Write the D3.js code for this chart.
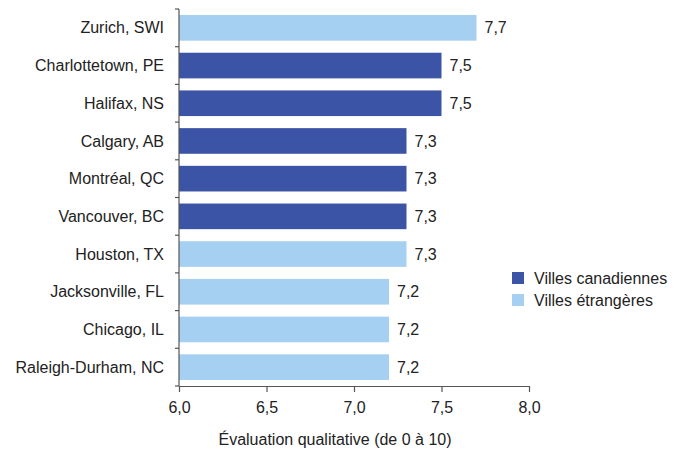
<!DOCTYPE html>
<html>
<head>
<meta charset="utf-8">
<script src="https://cdn.jsdelivr.net/npm/d3@7"></script>
<style>
  html, body { margin: 0; padding: 0; background: #fff; }
  svg { display: block; font-family: "Liberation Sans", Arial, Helvetica, sans-serif; }
</style>
</head>
<body>
<svg id="chart" width="683" height="457"></svg>
<script>
// City ratings, top to bottom
const cities = ["Zurich, SWI", "Charlottetown, PE", "Halifax, NS", "Calgary, AB", "Montréal, QC",
                "Vancouver, BC", "Houston, TX", "Jacksonville, FL", "Chicago, IL", "Raleigh-Durham, NC"];
const ratings = [7.7, 7.5, 7.5, 7.3, 7.3, 7.3, 7.3, 7.2, 7.2, 7.2];
const groups = ["f", "c", "c", "c", "c", "c", "f", "f", "f", "f"];
const xTicks = [6.0, 6.5, 7.0, 7.5, 8.0];
const legendLabels = ["Villes canadiennes", "Villes étrangères"];
const legendKeys = ["c", "f"];

const colors = { c: "#3b54a5", f: "#a5d0f2" };
const fmt = v => d3.format(".1f")(v).replace(".", ",");
const fontSize = 16;
const textColor = "#222";

const svg = d3.select("#chart");
const plotLeft = 179, plotRight = 529, plotTop = 9, plotBottom = 386;

const x = d3.scaleLinear().domain([6, 8]).range([plotLeft, plotRight]);
const y = d3.scaleBand().domain(cities).range([plotTop, plotBottom]).paddingInner(0.32).paddingOuter(0.16);

// Bars
svg.append("g").selectAll("rect").data(cities).join("rect")
  .attr("x", x(6))
  .attr("y", d => y(d))
  .attr("width", (d, i) => x(ratings[i]) - x(6))
  .attr("height", y.bandwidth())
  .attr("fill", (d, i) => colors[groups[i]]);

// Value labels
svg.append("g").selectAll("text").data(cities).join("text")
  .attr("x", (d, i) => x(ratings[i]) + 8)
  .attr("y", d => y(d) + y.bandwidth() / 2)
  .attr("dy", "0.35em")
  .attr("font-size", fontSize)
  .attr("fill", textColor)
  .text((d, i) => fmt(ratings[i]));

// Category axis: ticks sit on band boundaries
const yAxis = svg.append("g");
yAxis.append("line")
  .attr("x1", plotLeft).attr("x2", plotLeft).attr("y1", plotTop).attr("y2", plotBottom)
  .attr("stroke", "#555").attr("stroke-width", 1.2);
const boundaries = d3.range(cities.length + 1).map(i => plotTop + i * (plotBottom - plotTop) / cities.length);
yAxis.selectAll("line.tk").data(boundaries).join("line")
  .attr("class", "tk")
  .attr("x1", plotLeft - 4).attr("x2", plotLeft).attr("y1", d => d).attr("y2", d => d)
  .attr("stroke", "#555").attr("stroke-width", 1.2);
yAxis.selectAll("text").data(cities).join("text")
  .attr("x", 164)
  .attr("y", d => y(d) + y.bandwidth() / 2)
  .attr("dy", "0.35em")
  .attr("text-anchor", "end")
  .attr("font-size", fontSize)
  .attr("fill", textColor)
  .text(d => d);

// Value axis
const xAxis = svg.append("g").attr("transform", `translate(0,${plotBottom})`)
  .call(d3.axisBottom(x).tickValues(xTicks).tickFormat(fmt).tickSize(6).tickSizeOuter(0));
xAxis.select(".domain").attr("stroke", "#555").attr("stroke-width", 1.2);
xAxis.selectAll(".tick line").attr("stroke", "#555").attr("stroke-width", 1.2);
xAxis.selectAll(".tick text").attr("font-size", fontSize).attr("fill", textColor)
  .attr("font-family", "Liberation Sans, Arial, sans-serif").attr("dy", "1.15em");

svg.append("text")
  .attr("x", 335).attr("y", 445)
  .attr("text-anchor", "middle")
  .attr("font-size", fontSize)
  .attr("fill", textColor)
  .text("Évaluation qualitative (de 0 à 10)");

// Legend
const legend = svg.append("g");
legendLabels.forEach((lab, i) => {
  const g = legend.append("g").attr("transform", `translate(512,${272 + i * 22})`);
  g.append("rect").attr("width", 12).attr("height", 12).attr("fill", colors[legendKeys[i]]);
  g.append("text").attr("x", 22).attr("y", 6).attr("dy", "0.35em")
    .attr("font-size", fontSize).attr("fill", textColor).text(lab);
});
</script>
</body>
</html>
